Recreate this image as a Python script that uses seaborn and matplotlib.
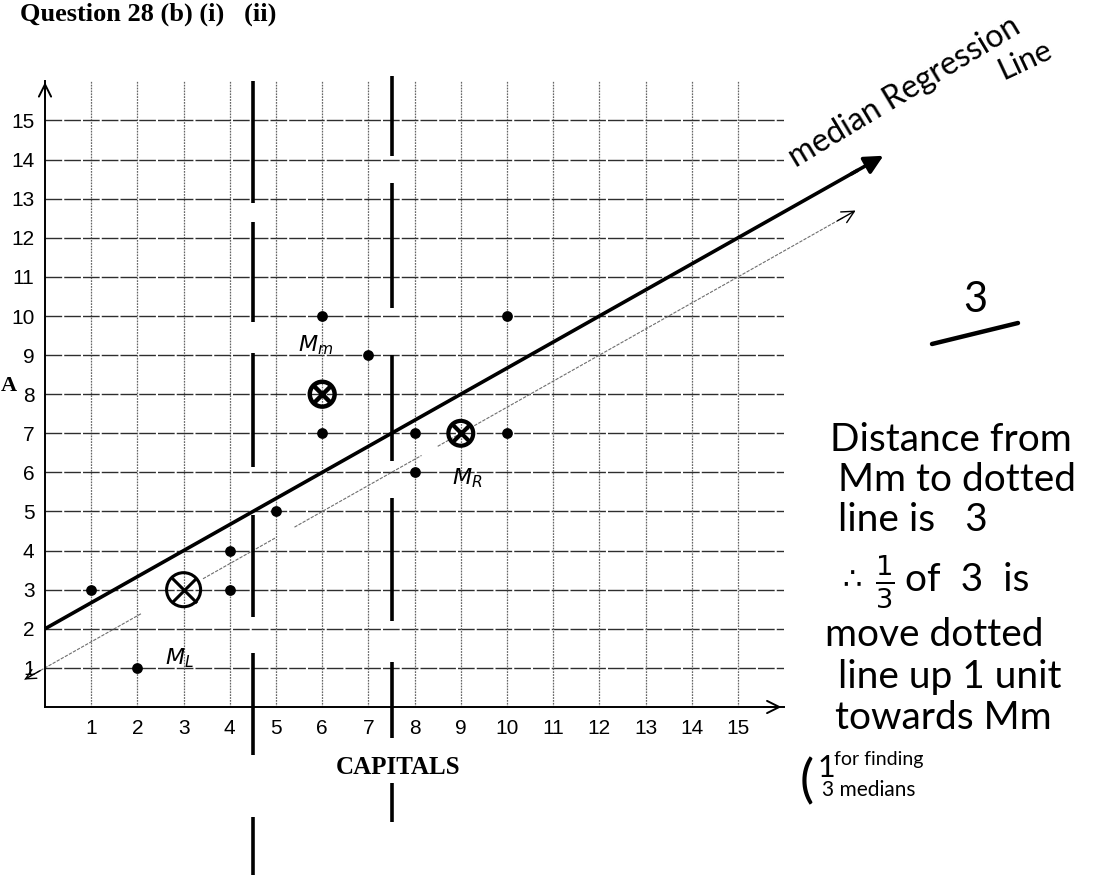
import numpy as np
import pandas as pd
import matplotlib
matplotlib.use("Agg")
import matplotlib.pyplot as plt
import seaborn as sns

# Scatter data: capitals (x) against the second variable (y)
capitals = [1, 2, 4, 4, 5, 6, 6, 7, 8, 8, 10, 10]
values = [3, 1, 4, 3, 5, 10, 7, 9, 7, 6, 10, 7]

# Medians of the lower, middle and upper thirds
median_names = ["$M_L$", "$M_m$", "$M_R$"]
median_x = [3, 6, 9]
median_y = [3, 8, 7]

# Boundaries between the thirds and the dash pieces drawn along them
third_bounds = [4.5, 7.5]
bound_pieces = [
    [(16.0, 12.9), (12.4, 9.85), (9.05, 6.14), (4.9, 2.3), (1.38, -1.23), (-2.81, -4.4)],
    [(16.15, 14.1), (13.4, 10.2), (9.0, 6.3), (5.35, 2.2), (1.15, -0.8), (-1.95, -2.95)],
]

# Pieces of the thin guide line (x ranges), broken around the labels
guide_pieces = [(-0.45, 2.1), (3.42, 5.0), (5.4, 8.15), (8.5, 17.3)]
line_end_x = 18.2   # the median regression line runs past the grid

ticks = list(range(1, 16))

sns.set_theme(style="white")
plt.rcParams["font.family"] = ["Liberation Sans", "DejaVu Sans"]
plt.rcParams["text.color"] = "black"

fig = plt.figure(figsize=(11.04, 8.75), dpi=100)
ax = fig.add_axes([45 / 1104, 1 - 707 / 875, 739.2 / 1104, 625.6 / 875])
ax.set_xlim(0, 16)
ax.set_ylim(0, 16)

# grid
for t in ticks:
    ax.axhline(t, color="#2e2e2e", lw=1.0, ls=(0, (12, 1.5)), zorder=0)
    ax.axvline(t, color="#666666", lw=0.9, ls=(0, (1.4, 0.9)), zorder=0)

# axes with arrow heads
for s in ["top", "right"]:
    ax.spines[s].set_visible(False)
for s in ["left", "bottom"]:
    ax.spines[s].set_color("black")
    ax.spines[s].set_linewidth(1.4)
ax.annotate("", xy=(16.0, 0), xytext=(15.5, 0), annotation_clip=False,
            arrowprops=dict(arrowstyle="->", lw=1.4, color="black", mutation_scale=22))
ax.annotate("", xy=(0, 16.05), xytext=(0, 15.5), annotation_clip=False,
            arrowprops=dict(arrowstyle="->", lw=1.4, color="black", mutation_scale=22))

ax.set_xticks(ticks)
ax.set_yticks(ticks)
ax.set_xticklabels([str(t) for t in ticks], fontsize=15)
ax.set_yticklabels([str(t) for t in ticks], fontsize=15)
ax.tick_params(axis="both", direction="inout", length=9, width=1.2, color="black",
               labelsize=15, labelcolor="black")
ax.tick_params(axis="x", pad=4)
ax.tick_params(axis="y", pad=3)

# vertical third boundaries
for xb, pieces in zip(third_bounds, bound_pieces):
    for y0, y1 in pieces:
        ax.plot([xb, xb], [y0, y1], color="black", lw=2.6, solid_capstyle="butt",
                clip_on=False, zorder=3)

# data points
df = pd.DataFrame({"CAPITALS": capitals, "value": values})
sns.scatterplot(data=df, x="CAPITALS", y="value", ax=ax, color="black", s=60,
                edgecolor="black", linewidth=0, zorder=5, legend=False)
ax.set_xlabel("")
ax.set_ylabel("")

# line through the outer medians and the median regression line
slope = (median_y[2] - median_y[0]) / (median_x[2] - median_x[0])
guide_icpt = median_y[0] - slope * median_x[0]
shift = (median_y[1] - (guide_icpt + slope * median_x[1])) / 3
reg_icpt = guide_icpt + shift

for x0, x1 in guide_pieces:
    ax.plot([x0, x1], [guide_icpt + slope * x0, guide_icpt + slope * x1],
            color="#6e6e6e", lw=0.8, ls=(0, (3, 1.2)), clip_on=False, zorder=2)
gx0, gx1 = guide_pieces[0][0], guide_pieces[-1][1]
ax.annotate("", xy=(gx1 + 0.3, guide_icpt + slope * (gx1 + 0.3)),
            xytext=(gx1 - 0.2, guide_icpt + slope * (gx1 - 0.2)), annotation_clip=False,
            arrowprops=dict(arrowstyle="->", lw=1.0, color="black", mutation_scale=22))
ax.annotate("", xy=(gx0 - 0.05, guide_icpt + slope * (gx0 - 0.05)),
            xytext=(gx0 + 0.4, guide_icpt + slope * (gx0 + 0.4)), annotation_clip=False,
            arrowprops=dict(arrowstyle="->", lw=1.0, color="black", mutation_scale=18))

ax.plot([0, line_end_x - 0.6], [reg_icpt, reg_icpt + slope * (line_end_x - 0.6)],
        color="black", lw=2.6, clip_on=False, zorder=4, solid_capstyle="butt")
ax.annotate("", xy=(line_end_x, reg_icpt + slope * line_end_x),
            xytext=(line_end_x - 0.8, reg_icpt + slope * (line_end_x - 0.8)),
            annotation_clip=False,
            arrowprops=dict(arrowstyle="-|>", lw=2.6, color="black", mutation_scale=28))

# medians: circled crosses
msizes = [600, 320, 320]
mlw = [2.2, 3.2, 3.0]
for mx, my, ms, lw in zip(median_x, median_y, msizes, mlw):
    ax.scatter([mx], [my], s=ms, facecolors="none", edgecolors="black", linewidths=lw,
               zorder=6, clip_on=False)
    ax.scatter([mx], [my], s=ms * 0.55, marker="x", color="black", linewidths=lw,
               zorder=6, clip_on=False)
label_off = [(-0.08, -1.75), (-0.15, 1.25), (0.15, -1.15)]
for name, mx, my, (dx, dy) in zip(median_names, median_x, median_y, label_off):
    ax.text(mx + dx, my + dy, name, fontsize=16, ha="center", va="center",
            color="black", style="italic", zorder=6)

# axis title and page heading
serif = ["Liberation Serif", "DejaVu Serif"]
fig.text(398 / 1104, 1 - 768 / 875, "CAPITALS", fontsize=18, fontweight="bold",
         family=serif, ha="center", va="center", color="black")
fig.text(20 / 1104, 1 - 14 / 875, "Question 28 (b) (i)   (ii)", fontsize=19,
         fontweight="bold", family=serif, ha="left", va="center", color="black")
fig.text(0.5 / 1104, 1 - 386 / 875, "A", fontsize=16, fontweight="bold",
         family=serif, ha="left", va="center", color="black")

# handwritten notes
hand = dict(family=["Lato", "DejaVu Sans"], fontweight="normal", color="black")
fig.text(905 / 1104, 1 - 92 / 875, "median Regression", fontsize=23, rotation=31,
         ha="center", va="center", **hand)
fig.text(1025 / 1104, 1 - 60 / 875, "Line", fontsize=22, rotation=25,
         ha="center", va="center", **hand)
fig.text(975 / 1104, 1 - 300 / 875, "3", fontsize=30, ha="center", va="center", **hand)
fig.add_artist(plt.Line2D([932 / 1104, 1018 / 1104], [1 - 344 / 875, 1 - 323 / 875],
                          color="black", lw=3.2))
notes = [
    (830, 440, "Distance from"),
    (838, 480, "Mm to dotted"),
    (838, 520, "line is   3"),
    (825, 635, "move dotted"),
    (838, 677, "line up 1 unit"),
    (835, 718, "towards Mm"),
]
for px, py, txt in notes:
    fig.text(px / 1104, 1 - py / 875, txt, fontsize=28, ha="left", va="center", **hand)
fig.text(842 / 1104, 1 - 580 / 875, "\u2234", fontsize=22, ha="left", va="center", **hand)
fig.text(885 / 1104, 1 - 582 / 875, r"$\frac{1}{3}$", fontsize=28, ha="center",
         va="center", color="black")
fig.text(905 / 1104, 1 - 580 / 875, "of  3  is", fontsize=28, ha="left", va="center", **hand)
fig.text(800 / 1104, 1 - 782 / 875, "(", fontsize=38, ha="left", va="center", **hand)
fig.text(818 / 1104, 1 - 768 / 875, "1", fontsize=22, ha="left", va="center", **hand)
fig.text(834 / 1104, 1 - 760 / 875, "for finding", fontsize=14, ha="left", va="center", **hand)
fig.text(822 / 1104, 1 - 790 / 875, "3 medians", fontsize=15, ha="left", va="center", **hand)

fig.savefig("out.png", dpi=100)
